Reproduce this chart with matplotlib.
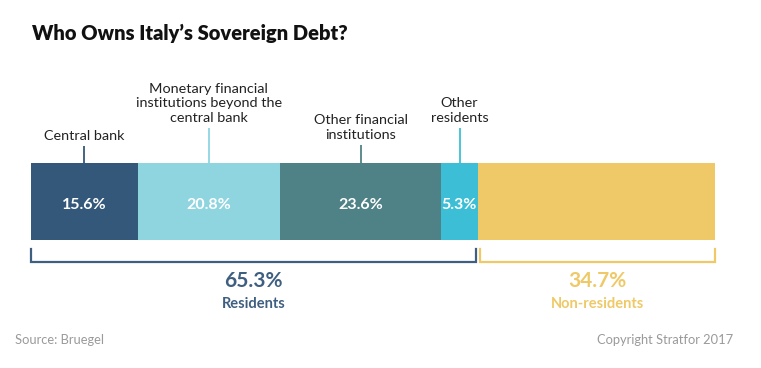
import matplotlib
matplotlib.use("Agg")
import matplotlib.pyplot as plt

categories = ["Central bank", "Monetary financial\ninstitutions beyond the\ncentral bank",
              "Other financial\ninstitutions", "Other\nresidents", "Non-residents"]
values = [15.6, 20.8, 23.6, 5.3, 34.7]
value_labels = ["15.6%", "20.8%", "23.6%", "5.3%", ""]
group_names = ["Residents", "Non-residents"]
group_values = [65.3, 34.7]

colors = ["#34587a", "#8fd5e0", "#4f8286", "#3cbfd6", "#efc967"]
line_colors = ["#34587a", "#8fd5e0", "#4f8286", "#3cbfd6", "#efc967"]
group_colors = ["#3f5f80", "#efc967"]
line_tops = [146, 128, 145, 128]

plt.rcParams['font.family'] = ['Lato', 'DejaVu Sans']

W, H = 761, 368
fig = plt.figure(figsize=(W / 100, H / 100), dpi=100)
ax = fig.add_axes([0, 0, 1, 1])
x0px, scale = 31, 6.84
ax.set_xlim(-x0px / scale, (W - x0px) / scale)
ax.set_ylim(H, 0)
ax.axis("off")

bar_top, bar_bot = 163, 240
lefts = []
acc = 0
for v in values:
    lefts.append(acc)
    acc += v
ax.barh([(bar_top + bar_bot) / 2] * len(values), values, left=lefts,
        height=bar_bot - bar_top, color=colors, edgecolor="none")

for i, (l, v, lab) in enumerate(zip(lefts, values, value_labels)):
    if lab:
        ax.text(l + v / 2, 205, lab, ha="center", va="center", color="white",
                fontsize=11.5, fontweight="bold")

for i in range(4):
    cx = lefts[i] + values[i] / 2
    ax.plot([cx, cx], [line_tops[i], bar_top], color=line_colors[i], lw=1.3,
            solid_capstyle="butt")
    ax.text(cx, line_tops[i] - 4, categories[i], ha="center", va="bottom",
            fontsize=10.4, color="#222222", linespacing=1.27)

res_end = sum(values[:4])
brackets = [(0, res_end - 0.25), (res_end + 0.35, 100)]
for (a, b), c, name, gv in zip(brackets, group_colors, group_names, group_values):
    ax.plot([a, a, b, b], [249, 262, 262, 249], color=c, lw=1.6,
            solid_joinstyle="miter")
    mid = (a + b) / 2
    ax.text(mid, 281, f"{gv}%", ha="center", va="center", color=c,
            fontsize=15, fontweight="bold")
    ax.text(mid, 304, name, ha="center", va="center", color=c,
            fontsize=10.5, fontweight="bold")

fig.text(32 / W, 1 - 33 / H, "Who Owns Italy\u2019s Sovereign Debt?", ha="left",
         va="center", fontsize=14.5, fontweight="heavy", color="#111111")
fig.text(15 / W, 1 - 340 / H, "Source: Bruegel", ha="left", va="center",
         fontsize=9.3, color="#9a9a9a")
fig.text(733 / W, 1 - 340 / H, "Copyright Stratfor 2017", ha="right", va="center",
         fontsize=9.3, color="#9a9a9a")

fig.savefig("out.png", dpi=100, facecolor="white")
